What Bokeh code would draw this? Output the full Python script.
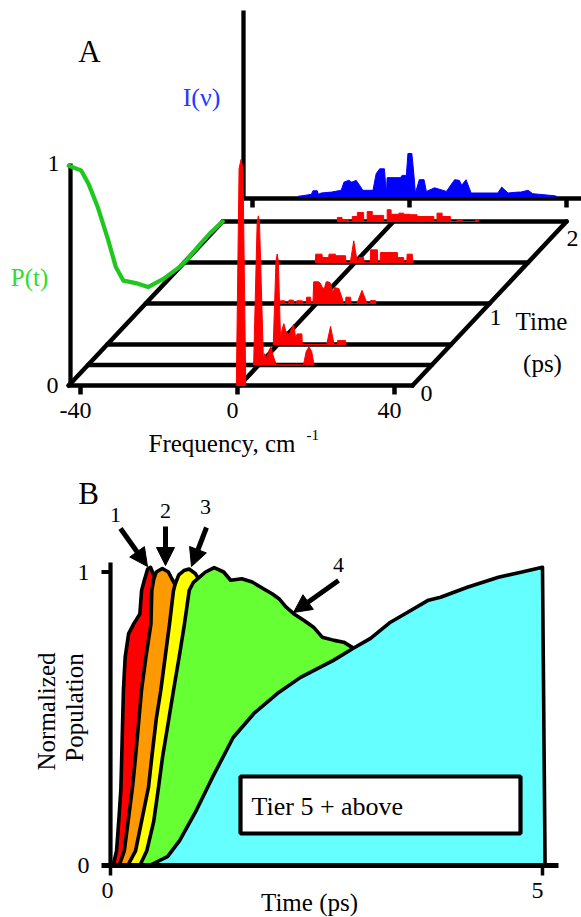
import numpy as np
from bokeh.plotting import figure
from bokeh.models import Range1d, Arrow, NormalHead
from bokeh.layouts import column
from bokeh.core.properties import value
from bokeh.embed import file_html
from bokeh.resources import INLINE

FONT = value("Liberation Serif")

# ============================ DATA ============================
# ---- Panel A ----
freq_ticks = [-40, 0, 40]
freq_tick_labels = ["-40", "0", "40"]
time_ticks = [0, 1, 2]
time_tick_labels = ["0", "1", "2"]
slice_times = [0.0, 0.25, 0.5, 1.0, 1.5, 2.0]

# survival probability P(t)
pt_time = [0.0, 0.16, 0.26, 0.38, 0.51, 0.61, 0.71, 0.87, 1.03, 1.23, 1.42, 1.55, 1.71, 1.84, 2.0]
pt_value = [0.99, 0.91, 0.81, 0.66, 0.47, 0.31, 0.21, 0.14, 0.063, 0.026, 0.004, 0.0, 0.006, 0.008, 0.0]

# time-resolved spectra (frequency cm^-1, relative intensity)
spec_000_f = [-0.3, 0.4, 0.9, 1.4, 2.1]
spec_000_i = [0.0, 0.96, 1.0, 0.96, 0.0]

spec_025_f = [-0.8, 0.1, 0.4, 0.7, 1.7, 2.0, 2.6, 3.0, 3.6, 4.2, 5.0, 11.9, 12.6, 13.3, 14.0, 14.6]
spec_025_i = [0.0, 0.63, 0.66, 0.63, 0.02, 0.05, 0.03, 0.06, 0.08, 0.04, 0.0, 0.0, 0.06, 0.08, 0.06, 0.0]

spec_050_f = [-0.7, 0.0, 0.3, 0.6, 1.15, 1.6, 2.0, 2.5, 3.3, 3.7, 4.5, 5.0, 5.4, 6.6, 6.7,
              12.9, 13.9, 14.8, 15.6, 15.7, 17.7, 17.8]
spec_050_i = [0.0, 0.37, 0.40, 0.37, 0.03, 0.07, 0.092, 0.06, 0.04, 0.06, 0.089, 0.03, 0.047, 0.047, 0.0,
              0.0, 0.08, 0.0, 0.0, 0.018, 0.018, 0.0]

spec_100_f = [-8.8, -8.7, -7.6, -7.5, -6.6, -6.5, -5.4, -5.3, -4.6, -4.5, -3.1, -3.0, -2.1, -2.0,
              -1.0, -0.9, -0.4, -0.2, 1.0, 1.5, 2.0, 2.5, 3.0, 3.5, 4.1, 4.6, 5.2, 6.2, 7.1, 7.2,
              7.9, 8.0, 9.2, 9.3, 10.8, 12.1, 13.4, 14.2, 14.3, 15.5, 15.6]
spec_100_i = [0.0, 0.012, 0.012, 0.0, 0.0, 0.015, 0.015, 0.0, 0.0, 0.012, 0.012, 0.0, 0.0, 0.028,
              0.028, 0.0, 0.0, 0.096, 0.096, 0.09, 0.07, 0.066, 0.096, 0.096, 0.09, 0.05, 0.07, 0.066, 0.02, 0.0,
              0.0, 0.028, 0.028, 0.0, 0.0, 0.058, 0.0, 0.0, 0.013, 0.013, 0.0]

spec_150_f = [-9.6, -9.5, -7.9, -7.8, -6.2, -6.1, -4.5, -4.4, -1.9, -1.8, -0.7, 0.2, 1.1, 1.4, 1.5,
              2.7, 2.8, 4.4, 4.5, 6.2, 6.3, 6.9, 7.0, 11.3, 11.4, 12.9, 13.0, 13.7, 13.8, 15.1, 15.2]
spec_150_i = [0.0, 0.037, 0.037, 0.022, 0.022, 0.037, 0.037, 0.03, 0.03, 0.0, 0.0, 0.096, 0.0, 0.0, 0.022,
              0.022, 0.0, 0.0, 0.056, 0.056, 0.0, 0.0, 0.044, 0.044, 0.022, 0.022, 0.0, 0.0, 0.037, 0.037, 0.0]

spec_200_f = [-13.8, -13.8, -12.6, -12.6, -11.0, -11.0, -10.0, -10.0, -8.7, -8.7, -7.1, -7.1, -6.2, -6.2,
              -4.9, -4.9, -2.0, -2.0, -1.1, -1.1, -0.1, -0.1, 1.9, 1.9, 3.1, 3.1, 4.8, 4.8, 6.5, 6.5,
              10.8, 10.8, 11.6, 11.6, 12.9, 12.9, 15.0, 15.0, 16.7, 16.7, 18.0, 18.0, 21.4, 21.4, 22.2, 22.2]
spec_200_i = [0.0, 0.018, 0.018, 0.008, 0.008, 0.0, 0.0, 0.022, 0.022, 0.04, 0.04, 0.0, 0.0, 0.044,
              0.044, 0.027, 0.027, 0.0, 0.0, 0.052, 0.052, 0.032, 0.032, 0.037, 0.037, 0.032, 0.032, 0.03, 0.03, 0.022,
              0.022, 0.0, 0.0, 0.037, 0.037, 0.022, 0.022, 0.0, 0.0, 0.008, 0.008, 0.0, 0.0, 0.008, 0.008, 0.0]

# long-time spectrum I(nu)
inu_f = [-28.4, -25.0, -24.6, -23.5, -23.2, -22.5, -19.9, -17.4, -16.7, -15.5,
         -14.7, -13.6, -12.5, -11.9, -9.3, -8.5, -7.6, -6.4, -5.9, -5.7,
         -2.3, -1.9, -0.8, -0.4, 0.6, 1.1, 1.5, 2.5, 3.7, 4.3,
         6.4, 9.4, 11.5, 12.7, 13.3, 14.4, 15.7, 22.5, 23.5, 25.1,
         27.6, 28.3, 30.2, 31.4, 36.9, 37.5]
inu_i = [0.0, 0.009, 0.025, 0.025, 0.009, 0.015, 0.019, 0.027, 0.063, 0.071,
         0.063, 0.071, 0.044, 0.027, 0.027, 0.10, 0.122, 0.122, 0.012, 0.083,
         0.083, 0.093, 0.093, 0.19, 0.19, 0.10, 0.015, 0.074, 0.074, 0.022,
         0.038, 0.022, 0.074, 0.071, 0.049, 0.074, 0.015, 0.015, 0.041, 0.015,
         0.019, 0.019, 0.027, 0.012, 0.003, 0.0]

# ---- Panel B : normalized populations of tiers (outline incl. hidden closing points) ----
b_xticks = [0, 5]
b_xtick_labels = ["0", "5"]
b_yticks = [0, 1]
b_ytick_labels = ["0", "1"]

tier1_t = [0.03, 0.07, 0.10, 0.12, 0.13, 0.15, 0.17, 0.21, 0.27, 0.34, 0.36, 0.39, 0.43, 0.463, 0.50, 0.56, 0.58]
tier1_y = [0.0, 0.05, 0.17, 0.26, 0.37, 0.60, 0.71, 0.79, 0.824, 0.857, 0.937, 0.97, 1.01, 1.016, 0.99, 0.95, 0.0]

tier2_t = [0.10, 0.16, 0.255, 0.29, 0.36, 0.41, 0.468, 0.478, 0.50, 0.53, 0.60, 0.67, 0.71, 0.80, 0.84]
tier2_y = [0.0, 0.05, 0.267, 0.37, 0.60, 0.71, 0.823, 0.937, 0.975, 1.0, 1.012, 1.0, 0.977, 0.93, 0.0]

tier3_t = [0.20, 0.29, 0.38, 0.44, 0.478, 0.53, 0.582, 0.683, 0.729, 0.75, 0.79, 0.85, 0.91, 0.98, 1.02, 1.08, 1.10]
tier3_y = [0.0, 0.05, 0.18, 0.267, 0.369, 0.50, 0.596, 0.823, 0.937, 0.96, 0.99, 1.005, 1.01, 0.995, 0.977, 0.95, 0.0]

tier4_t = [0.34, 0.42, 0.50, 0.556, 0.602, 0.67, 0.729, 0.80, 0.856, 0.911, 0.96, 1.04, 1.10, 1.20, 1.31,
           1.39, 1.52, 1.64, 1.77, 1.87, 1.95, 2.03, 2.12, 2.24, 2.35, 2.45, 2.59, 2.70, 2.82, 2.95, 2.95]
tier4_y = [0.0, 0.05, 0.15, 0.267, 0.369, 0.49, 0.596, 0.72, 0.823, 0.937, 0.965, 0.985, 1.0, 1.015, 1.0,
           0.972, 0.977, 0.966, 0.943, 0.926, 0.909, 0.881, 0.858, 0.835, 0.812, 0.778, 0.767, 0.761, 0.739,
           0.70, 0.0]

tier5_t = [0.45, 0.66, 0.80, 0.98, 1.18, 1.42, 1.66, 1.93, 2.20, 2.58, 2.81, 3.01, 3.24, 3.44, 3.68,
           3.82, 4.13, 4.49, 4.75, 5.0, 5.03]
tier5_y = [0.0, 0.03, 0.085, 0.18, 0.30, 0.436, 0.518, 0.586, 0.641, 0.699, 0.74, 0.774, 0.829, 0.863, 0.904,
           0.914, 0.948, 0.982, 0.999, 1.016, 0.0]

# ============================ PANEL A ============================
A_H = 460
PX_CM = 3.925            # px per cm^-1
PX_PS = 82.0             # vertical px per ps along the oblique time axis
SHEAR = 77.0 / PX_CM     # horizontal shift per ps (cm^-1 units)
AMP_R = 226.0 / PX_PS    # height per unit spectral intensity
AMP_P = 222.0 / PX_PS    # height per unit probability
F_LEFT, F_RIGHT, F_INNER = -43.0, 44.6, 0.5
T_BACK = 2.0
LW = 4.5
RED = "#ff0000"
BLUE = "#0000ff"


def ax(px):
    return (px - 237.0) / PX_CM


def ay(py):
    return (385.0 - py) / PX_PS


pA = figure(width=581, height=A_H, x_range=Range1d(ax(0), ax(581)), y_range=Range1d(ay(A_H), ay(0)),
            x_axis_type=None, y_axis_type=None, toolbar_location=None, output_backend="svg",
            min_border=0, outline_line_color=None, background_fill_color="white",
            border_fill_color="white")

# floor grid of the 3D box
xs, ys = [], []
for t in slice_times:
    xs.append([F_LEFT + SHEAR * t, F_RIGHT + SHEAR * t])
    ys.append([t, t])
for f in (F_LEFT, F_RIGHT, F_INNER):
    xs.append([f, f + SHEAR * T_BACK])
    ys.append([0.0, T_BACK])
pA.multi_line(xs, ys, line_color="black", line_width=LW, line_cap="round")

# P(t) axis
pA.segment(x0=[ax(70)], y0=[0.0], x1=[ax(70)], y1=[AMP_P * 1.0], line_color="black", line_width=4.3)
# frequency ticks
pA.segment(x0=freq_ticks, y0=[0.0] * 3, x1=freq_ticks, y1=[-9 / PX_PS] * 3, line_color="black", line_width=4.5)

# I(nu) panel axes
I_F0 = ax(409)
I_Y0 = ay(198)
pA.segment(x0=[ax(243)], y0=[I_Y0], x1=[ax(243)], y1=[ay(10)], line_color="black", line_width=4.3)
pA.segment(x0=[ax(243)], y0=[I_Y0], x1=[ax(600)], y1=[I_Y0], line_color="black", line_width=4.3)
itx = [I_F0 + f for f in freq_ticks]
pA.segment(x0=itx, y0=[I_Y0] * 3, x1=itx, y1=[I_Y0 - 9 / PX_PS] * 3, line_color="black", line_width=4.5)

# red spectra on each slice
spectra = [(spec_000_f, spec_000_i), (spec_025_f, spec_025_i), (spec_050_f, spec_050_i),
           (spec_100_f, spec_100_i), (spec_150_f, spec_150_i), (spec_200_f, spec_200_i)]
for t, (sf, si) in zip(slice_times, spectra):
    x = np.asarray(sf) + SHEAR * t
    y = t + AMP_R * np.asarray(si)
    pA.patch(x, y, fill_color=RED, line_color=RED, line_width=1)

# blue I(nu)
pA.patch(I_F0 + np.asarray(inu_f), I_Y0 + 2.1 / PX_PS + AMP_R * np.asarray(inu_i),
         fill_color=BLUE, line_color=BLUE, line_width=1)

# green P(t)
pA.line(F_LEFT + SHEAR * np.asarray(pt_time), np.asarray(pt_time) + AMP_P * np.asarray(pt_value),
        line_color="#1ec81e", line_width=4.2, line_join="round", line_cap="round")

# texts
pA.text(x=[ax(89)], y=[ay(51)], text=["A"], text_font=FONT, text_font_size="31px",
        text_align="center", text_baseline="middle")
pA.text(x=[ax(201)], y=[ay(97)], text=["I(\u03bd)"], text_font=FONT, text_font_size="26px",
        text_color="#1f3cff", text_align="center", text_baseline="middle")
pA.text(x=[ax(29)], y=[ay(277)], text=["P(t)"], text_font=FONT, text_font_size="25px",
        text_color="#2fdc2f", text_align="center", text_baseline="middle")
pA.text(x=[ax(59), ax(58)], y=[AMP_P * 1.0, 0.0], text=["1", "0"], text_font=FONT,
        text_font_size="24px", text_align="right", text_baseline="middle")
pA.text(x=freq_ticks, y=[ay(410)] * 3, x_offset=-5, text=freq_tick_labels, text_font=FONT,
        text_font_size="24px", text_align="center", text_baseline="middle")
pA.text(x=[ax(148)], y=[ay(443)], text=["Frequency, cm"], text_font=FONT, text_font_size="25px",
        text_align="left", text_baseline="alphabetic")
pA.text(x=[ax(306)], y=[ay(434)], text=["-1"], text_font=FONT, text_font_size="15px",
        text_align="left", text_baseline="middle")
tlx = [F_RIGHT + SHEAR * t for t in time_ticks]
pA.text(x=tlx, y=list(map(float, time_ticks)), x_offset=[14, 6, 6], y_offset=[8, 14, 17],
        text=time_tick_labels, text_font=FONT, text_font_size="24px",
        text_align="center", text_baseline="middle")
pA.text(x=[ax(541), ax(542)], y=[ay(321), ay(363)], text=["Time", "(ps)"], text_font=FONT,
        text_font_size="25px", text_align="center", text_baseline="middle")

# ============================ PANEL B ============================
B_TOP = float(A_H)
B_H = 917 - A_H


def bx(px):
    return (px - 110.0) / 86.4


def by(py):
    return (865.0 - py) / 293.5


pB = figure(width=581, height=B_H, x_range=Range1d(bx(0), bx(581)), y_range=Range1d(by(917), by(B_TOP)),
            x_axis_type=None, y_axis_type=None, toolbar_location=None, output_backend="svg",
            min_border=0, outline_line_color=None, background_fill_color="white",
            border_fill_color="white")

tiers = [(tier1_t, tier1_y, "#ff0000"), (tier2_t, tier2_y, "#ff9900"), (tier3_t, tier3_y, "#ffff00"),
         (tier4_t, tier4_y, "#66ff33"), (tier5_t, tier5_y, "#66ffff")]
for tt, yy, col in tiers:
    pB.patch(tt, yy, fill_color=col, line_color="black", line_width=3.6, line_join="round")

# legend box for tier 5
pB.quad(left=[bx(240)], right=[bx(520)], bottom=[by(833)], top=[by(776)], fill_color="white",
        line_color="black", line_width=4.2)
pB.text(x=[bx(251)], y=[by(806)], text=["Tier 5 + above"], text_font=FONT, text_font_size="26px",
        text_align="left", text_baseline="middle")

# axes
pB.segment(x0=[0.0], y0=[0.0], x1=[0.0], y1=[by(562)], line_color="black", line_width=4.2)
pB.segment(x0=[bx(101)], y0=[0.0], x1=[bx(558)], y1=[0.0], line_color="black", line_width=5)
pB.segment(x0=[bx(101)], y0=[1.0], x1=[0.0], y1=[1.0], line_color="black", line_width=4)
pB.segment(x0=b_xticks, y0=[0.0, 0.0], x1=b_xticks, y1=[by(875)] * 2, line_color="black", line_width=3.5)

pB.text(x=[bx(89)] * 2, y=b_yticks, text=b_ytick_labels, text_font=FONT, text_font_size="24px",
        text_align="right", text_baseline="middle")
pB.text(x=b_xticks, y=[by(890)] * 2, x_offset=[-3, -5], text=b_xtick_labels, text_font=FONT,
        text_font_size="24px", text_align="center", text_baseline="middle")
pB.text(x=[bx(309)], y=[by(902)], text=["Time (ps)"], text_font=FONT, text_font_size="25px",
        text_align="center", text_baseline="middle")
pB.text(x=[bx(46), bx(74)], y=[by(711), by(707)], text=["Normalized", "Population"], text_font=FONT,
        text_font_size="25px", angle=np.pi / 2, text_align="center", text_baseline="middle")
pB.text(x=[bx(88)], y=[by(493)], text=["B"], text_font=FONT, text_font_size="31px",
        text_align="center", text_baseline="middle")
pB.text(x=[bx(115), bx(165), bx(205), bx(338)], y=[by(514), by(510), by(506), by(564)],
        text=["1", "2", "3", "4"], text_font=FONT, text_font_size="22px",
        text_align="center", text_baseline="middle")

arrows = [((120, 528), (147, 566)), ((165, 526), (165, 565)), ((206, 527), (191, 566)),
          ((338, 580), (293, 612))]
for (sx, sy), (ex, ey) in arrows:
    pB.add_layout(Arrow(end=NormalHead(size=18, fill_color="black", line_color="black"),
                        x_start=bx(sx), y_start=by(sy), x_end=bx(ex), y_end=by(ey),
                        line_color="black", line_width=5))

layout = column(pA, pB, spacing=0)
open("out.html", "w").write(file_html(layout, INLINE, title="chart"))
